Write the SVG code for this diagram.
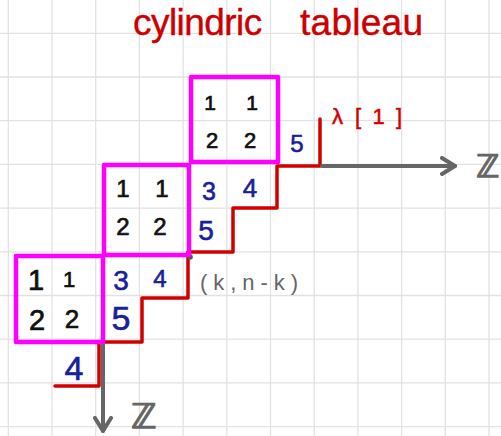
<svg xmlns="http://www.w3.org/2000/svg" width="501" height="436" viewBox="0 0 501 436">
<style>
.grid{stroke:#e2e2e2;stroke-width:1.3;fill:none}
.box{fill:none;stroke:#ff00ff;stroke-width:4.5;stroke-linejoin:round}
.blk{font-family:"Liberation Sans",Arial,sans-serif;fill:#111;stroke:#111;stroke-width:0.7;text-anchor:middle}
.blu{font-family:"Liberation Sans",Arial,sans-serif;fill:#17219a;stroke:#17219a;stroke-width:0.6;text-anchor:middle}
.red{fill:none;stroke:#d00000;stroke-width:3.5;stroke-linejoin:round;stroke-linecap:round}
.ax{fill:none;stroke:#666;stroke-width:4;stroke-linecap:round}
.lbl{font-family:"Liberation Sans",Arial,sans-serif;fill:#666}
.zz{font-family:"DejaVu Sans",sans-serif;fill:#666;stroke:#666;stroke-width:1.3}
</style>
<defs>
<marker id="head" viewBox="0 0 18 20" refX="15" refY="10" markerWidth="18" markerHeight="20" markerUnits="userSpaceOnUse" orient="auto">
<path d="M2,2 L15,10 L2,18" fill="none" stroke="#666" stroke-width="4" stroke-linecap="round" stroke-linejoin="round"/>
</marker>
</defs>
<rect width="501" height="436" fill="#fff"/>
<path class="grid" d="M8.3,0V436M52,0V436M95.7,0V436M139.4,0V436M183.1,0V436M226.8,0V436M270.5,0V436M314.2,0V436M357.9,0V436M401.6,0V436M445.3,0V436M489,0V436M0,33.3H501M0,77H501M0,120.7H501M0,164.4H501M0,208.1H501M0,251.8H501M0,295.5H501M0,339.2H501M0,382.9H501M0,426.6H501"/>
<text x="133" y="35" font-family="Liberation Sans,Arial,sans-serif" font-size="37" fill="#cc0000" stroke="#cc0000" stroke-width="0.4"><tspan x="133" textLength="139">cylindric </tspan><tspan x="300" textLength="123">tableau</tspan></text>
<g id="connectors">
<path class="red" d="M320,119V166H277V208H233V252H188V298H142V342H99V386H55"/>
<path class="ax" d="M322,166H455" marker-end="url(#head)"/>
<path class="ax" d="M103,345V431" marker-end="url(#head)"/>
<circle cx="190" cy="257" r="2.8" fill="#555"/>
</g>
<g id="block-top">
<rect class="box" x="191" y="77" width="87" height="85"/>
<text class="blk" x="210" y="110" font-size="21">1</text>
<text class="blk" x="252" y="110" font-size="21">1</text>
<text class="blk" x="212" y="148" font-size="22">2</text>
<text class="blk" x="250" y="148" font-size="22">2</text>
<text class="blu" x="297" y="152" font-size="24">5</text>
</g>
<g id="block-middle">
<rect class="box" x="104" y="165" width="85" height="90"/>
<text class="blk" x="123" y="197" font-size="24">1</text>
<text class="blk" x="162" y="197" font-size="24">1</text>
<text class="blk" x="123" y="235" font-size="24">2</text>
<text class="blk" x="160" y="235" font-size="24">2</text>
<text class="blu" x="209" y="200" font-size="25">3</text>
<text class="blu" x="250" y="197" font-size="26">4</text>
<text class="blu" x="206" y="240" font-size="28">5</text>
</g>
<g id="block-bottom">
<rect class="box" x="16" y="256" width="87" height="86"/>
<text class="blk" x="36" y="290" font-size="29">1</text>
<text class="blk" x="69" y="287" font-size="22">1</text>
<text class="blk" x="37" y="330" font-size="29">2</text>
<text class="blk" x="72" y="328" font-size="26">2</text>
<text class="blu" x="121" y="290" font-size="28">3</text>
<text class="blu" x="160" y="287" font-size="24">4</text>
<text class="blu" x="121" y="330" font-size="34">5</text>
<text class="blu" x="74" y="380" font-size="34">4</text>
</g>
<g id="labels">
<text y="124" font-family="Liberation Sans,Arial,sans-serif" font-size="22" fill="#d00000" stroke="#d00000" stroke-width="0.5"><tspan x="332">λ </tspan><tspan x="355" textLength="47" lengthAdjust="spacing">[1]</tspan></text>
<text class="lbl" x="200" y="290" font-size="22" textLength="98" lengthAdjust="spacing">(k,n-k)</text>
<text class="zz" x="476" y="177" font-size="31">ℤ</text>
<text class="zz" x="131" y="428" font-size="34">ℤ</text>
</g>
</svg>
